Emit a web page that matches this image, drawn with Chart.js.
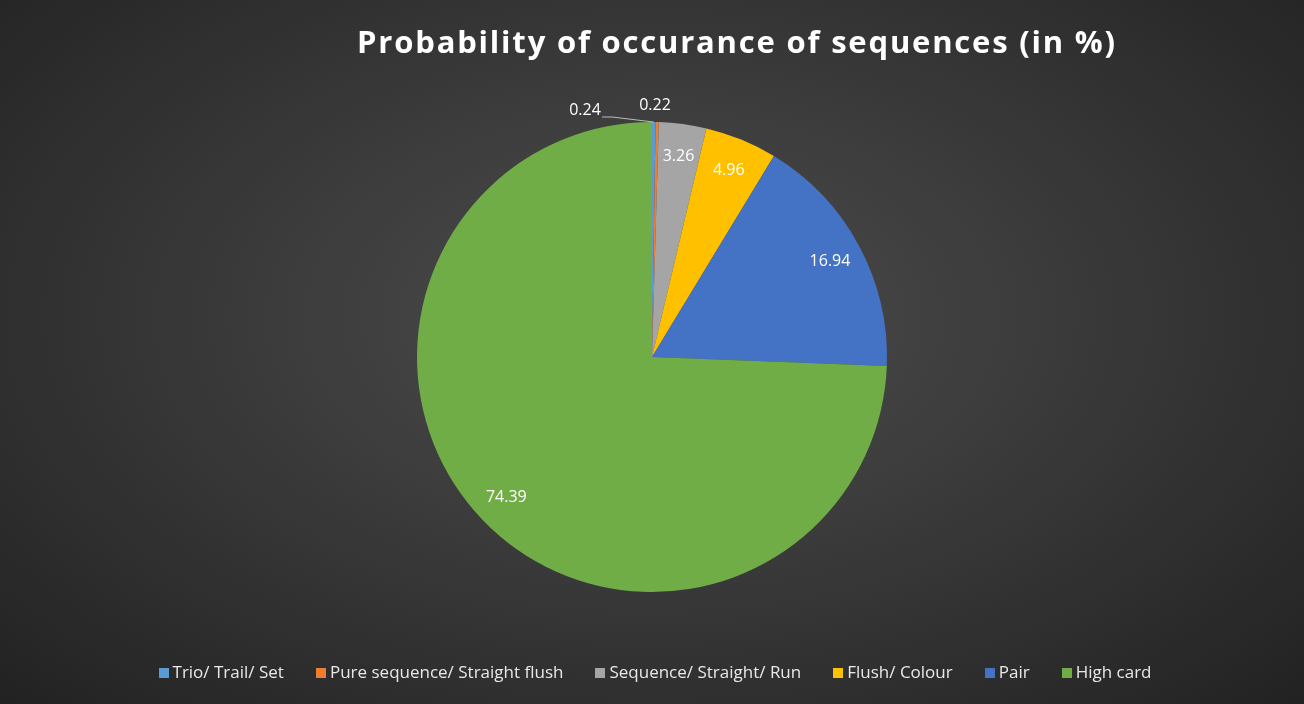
<!DOCTYPE html>
<html><head><meta charset="utf-8">
<script src="https://cdn.jsdelivr.net/npm/chart.js@4"></script>
<style>
html,body{margin:0;padding:0;width:1304px;height:704px;overflow:hidden;
 background:radial-gradient(ellipse at 50% 45%,#4d4d4d 0%,#3a3a3a 45%,#222 100%);font-family:"Open Sans",sans-serif;}
#title{position:absolute;top:20px;left:0;width:1474px;text-align:center;color:#fff;font:bold 31px "Open Sans",sans-serif;letter-spacing:1.8px;}
#wrap{position:absolute;left:0;top:0;width:1304px;height:704px;}
#legend{position:absolute;top:660px;left:0;width:1310px;text-align:center;color:#e8e8e8;font-size:17px;}
#legend span{margin:0 16px;white-space:nowrap}
#legend i{display:inline-block;width:10px;height:10px;margin-right:4px;}
</style></head><body>
<div id="wrap"><canvas id="c"></canvas></div>
<div id="title">Probability of occurance of sequences (in %)</div>
<div id="legend"></div>
<script>
const labels = ['Trio/ Trail/ Set','Pure sequence/ Straight flush','Sequence/ Straight/ Run','Flush/ Colour','Pair','High card'];
const values = [0.24, 0.22, 3.26, 4.96, 16.94, 74.39];
const colors = ['#5b9bd5','#ed7d31','#a5a5a5','#ffc000','#4472c4','#70ad47'];

document.getElementById('legend').innerHTML = labels.map((l,i)=>`<span><i style="background:${colors[i]}"></i>${l}</span>`).join('');

const valueLabels = {
  id:'valueLabels',
  afterDatasetsDraw(chart){
    const ctx = chart.ctx;
    const arcs = chart.getDatasetMeta(0).data;
    ctx.save();
    ctx.font = '16px "Open Sans", sans-serif';
    ctx.fillStyle = '#fff';
    ctx.textAlign = 'center'; ctx.textBaseline = 'middle';
    arcs.forEach((a,i)=>{
      const mid = (a.startAngle + a.endAngle)/2;
      const r = a.outerRadius;
      if (values[i] < 1) {
        const px = a.x + Math.cos(mid)*r, py = a.y + Math.sin(mid)*r;
        if (i === 0) {
          ctx.strokeStyle = '#bbb'; ctx.lineWidth = 1;
          ctx.beginPath(); ctx.moveTo(px,py); ctx.lineTo(a.x-40,a.y-240); ctx.lineTo(a.x-50,a.y-240); ctx.stroke();
          ctx.fillText(values[i], a.x-67, a.y-247);
        } else {
          ctx.fillText(values[i], a.x+3, a.y-252);
        }
      } else {
        ctx.fillText(values[i], a.x + Math.cos(mid)*r*0.86, a.y + Math.sin(mid)*r*0.86);
      }
    });
    ctx.restore();
  }
};

new Chart(document.getElementById('c'), {
  type:'pie',
  data:{labels, datasets:[{data:values, backgroundColor:colors, borderWidth:0}]},
  options:{
    responsive:true, maintainAspectRatio:false, animation:false,
    layout:{padding:{top:122,bottom:112}},
    plugins:{legend:{display:false}, tooltip:{enabled:false}}
  },
  plugins:[valueLabels]
});
</script>
</body></html>
